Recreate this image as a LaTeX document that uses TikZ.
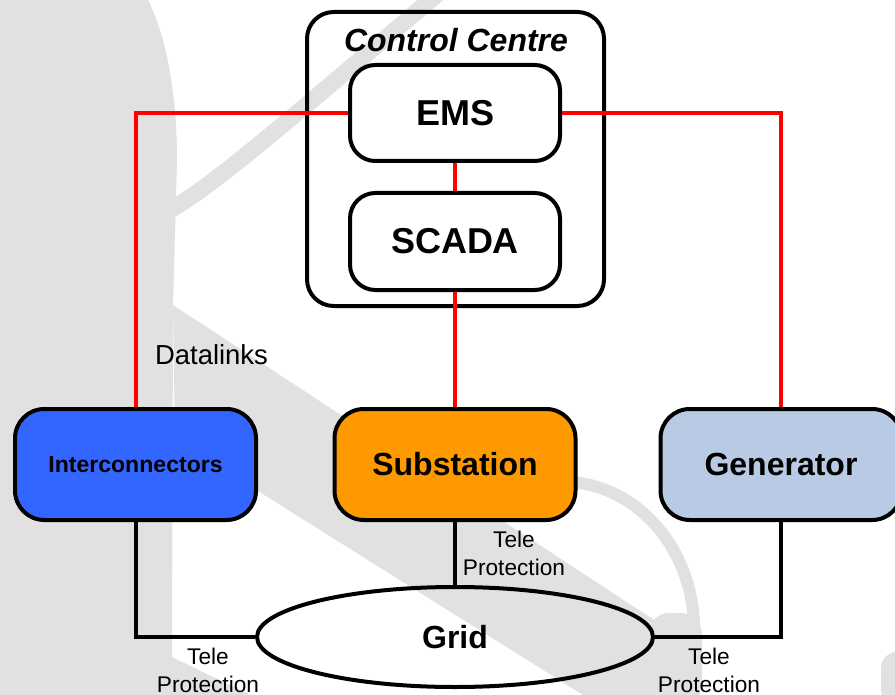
\documentclass[tikz,border=0pt]{standalone}
\usepackage{fontspec}
\setmainfont{Liberation Sans}
\usetikzlibrary{shapes.geometric}
\definecolor{wm}{RGB}{225,225,225}
\definecolor{icblue}{RGB}{51,102,255}
\definecolor{suborange}{RGB}{255,153,0}
\definecolor{genblue}{RGB}{185,203,228}
\definecolor{linkred}{RGB}{255,0,0}
\begin{document}
\begin{tikzpicture}[x=0.75pt,y=-0.75pt,
  outline/.style={draw=black,line width=3pt},
  innerbox/.style={outline,fill=white,rounded corners=19pt,minimum width=157.5pt,minimum height=72pt,inner sep=0pt,font=\bfseries\fontsize{27}{30}\selectfont},
  sitebox/.style={outline,rounded corners=22pt,minimum width=180.75pt,minimum height=83.25pt,inner sep=0pt,font=\bfseries\fontsize{24}{28}\selectfont},
  datalink/.style={draw=linkred,line width=3pt},
  telelink/.style={draw=black,line width=3pt},
  tplabel/.style={align=center,inner sep=0pt,font=\fontsize{17}{21}\selectfont}]
\useasboundingbox (0,0) rectangle (895,695);
% watermark
\fill[wm] (0,0) -- (148,0) .. controls (168,40) and (177,100) .. (177,160) -- (173,305) -- (172,657) -- (250,695) -- (0,695) -- cycle;
\fill[wm] (173,305) -- (700,650) -- (700,695) -- (583,695) -- (175,439) -- cycle;
\fill[wm,rounded corners=16pt] (648,700) -- (648,613) -- (702,613) -- (702,700) -- cycle;
\draw[wm,line width=9pt] (572,482) .. controls (640,488) and (692,550) .. (694,625);
\draw[wm,line width=12.5pt] (170,210) .. controls (215,185) and (300,110) .. (440,-8);
\fill[wm,rounded corners=12pt] (881,705) -- (881,652) -- (910,652) -- (910,705) -- cycle;
% control centre
\node[outline,rounded corners=20pt,minimum width=222.75pt,minimum height=220.5pt,inner sep=0pt] (cc) at (455.5,159) {};
\node[anchor=base,inner sep=0pt,font=\bfseries\itshape\fontsize{24}{28}\selectfont] (cclabel) at (456,52) {Control Centre};
% connectors (drawn beneath the boxes)
\coordinate (dummy) at (0,0);
\node[innerbox] (ems) at (455,113) {EMS};
\node[innerbox,minimum height=72.75pt] (scada) at (455,241.5) {SCADA};
\node[sitebox,fill=icblue,font=\bfseries\fontsize{17.3}{20}\selectfont] (ic) at (135.5,464.5) {Interconnectors};
\node[sitebox,fill=suborange] (sub) at (455,464.5) {Substation};
\node[sitebox,fill=genblue] (gen) at (781,464.5) {Generator};
\node[ellipse,outline,minimum width=297pt,minimum height=75pt,inner sep=0pt,font=\bfseries\fontsize{24}{28}\selectfont] (grid) at (455,637) {Grid};
% data links
\draw[datalink] (ems.west) -| (ic.north);
\draw[datalink] (ems.east) -| (gen.north);
\draw[datalink] (ems.south) -- (scada.north);
\draw[datalink] (scada.south) -- (sub.north);
% tele protection links
\draw[telelink] (ic.south) |- (grid.west);
\draw[telelink] (sub.south) -- (grid.north);
\draw[telelink] (gen.south) |- (grid.east);
% labels
\node[anchor=base,inner sep=0pt,font=\fontsize{20.6}{24}\selectfont] (dl) at (211.5,364) {Datalinks};
\node[tplabel] (tp1) at (208,670) {Tele\\Protection};
\node[tplabel] (tp2) at (514,553) {Tele\\Protection};
\node[tplabel] (tp3) at (709,670) {Tele\\Protection};
\end{tikzpicture}
\end{document}
